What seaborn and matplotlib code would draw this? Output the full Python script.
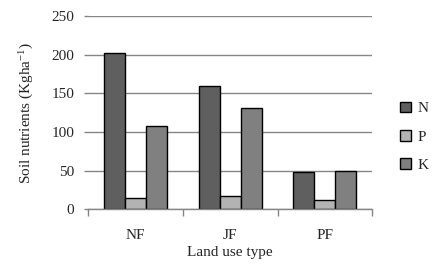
import matplotlib
matplotlib.use("Agg")
import matplotlib.pyplot as plt
import seaborn as sns
import pandas as pd
import numpy as np

categories = ["NF", "JF", "PF"]
nutrients = ["N", "P", "K"]
N_vals = [202, 159, 48]
P_vals = [14, 17, 12]
K_vals = [108, 131, 49]
colors = ["#5f5f5f", "#b3b3b3", "#808080"]

rows = []
for i, c in enumerate(categories):
    for nut, vals in zip(nutrients, [N_vals, P_vals, K_vals]):
        rows.append({"Land use type": c, "Nutrient": nut, "Value": vals[i]})
df = pd.DataFrame(rows)

sns.set_style("white")
plt.rcParams["font.family"] = ["Liberation Serif", "DejaVu Serif"]
plt.rcParams["mathtext.default"] = "regular"

fs = 11
fig = plt.figure(figsize=(4.33, 2.69), dpi=100)
ax = fig.add_axes([88.3/433, 1 - 209.3/269, (372.3-88.3)/433, (209.3-16)/269])

sns.barplot(data=df, x="Land use type", y="Value", hue="Nutrient",
            palette=colors, width=0.665, gap=0, edgecolor="black",
            linewidth=1.0, ax=ax, legend=True, saturation=1)

grid_c = "#868686"
ax.set_ylim(0, 250)
ax.set_xlim(-0.5, 2.5)
ax.set_yticks(np.arange(0, 251, 50))
ax.yaxis.grid(True, color=grid_c, linewidth=1.0)
ax.set_axisbelow(True)
for s in ["top", "right", "left"]:
    ax.spines[s].set_visible(False)
ax.spines["bottom"].set_color(grid_c)
ax.spines["bottom"].set_linewidth(1.0)

ax.tick_params(axis="y", length=3, color=grid_c, width=1.0, labelsize=fs, pad=7, left=True)
ax.tick_params(axis="x", which="major", length=0, labelsize=fs, pad=14)
ax.set_xticks([-0.5, 0.5, 1.5, 2.5], minor=True)
ax.tick_params(axis="x", which="minor", length=5, color=grid_c, width=1.0, bottom=True, direction="out")

ax.set_xlabel("Land use type", fontsize=fs, labelpad=3)
ax.set_ylabel("Soil nutrients (Kgha$^{-1}$)", fontsize=fs, labelpad=11)

leg = ax.legend(loc="center left", bbox_to_anchor=(1.05, 0.375), frameon=False,
                fontsize=fs, handlelength=0.7, handleheight=0.7,
                labelspacing=0.95, handletextpad=0.4)
for h in leg.legend_handles:
    h.set_edgecolor("black")
    h.set_linewidth(1.0)

fig.savefig("out.png", dpi=100)
